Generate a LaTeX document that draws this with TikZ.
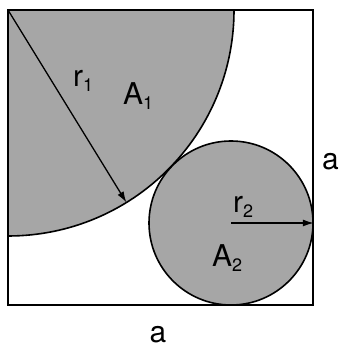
\documentclass[tikz,border=0pt]{standalone}
\usepackage{fontspec}
\setmainfont{TeX Gyre Heros}
\usetikzlibrary{arrows.meta,positioning,calc}
\newcommand{\lowidx}[1]{\raisebox{-5pt}{\fontsize{18}{18}\selectfont #1}}

\begin{document}
\begin{tikzpicture}[x=1pt, y=1pt, font=\fontsize{30}{36}\selectfont,
  frame/.style={draw=black, line width=1.6pt},
  grayfill/.style={fill=gray!70, draw=black, line width=1.6pt},
  arrow/.style={-{Latex[length=11pt, width=7pt]}, line width=1.3pt, draw=black},
  lbl/.style={inner sep=0pt, anchor=base west}]
  \useasboundingbox (0,0) rectangle (339,347);
  \coordinate (bl) at (8,42);
  \coordinate (tr) at (313,337);
  \coordinate (tl) at (8,337);
  % quarter circle in the corner
  \fill[gray!70] (tl) -- ++(226,0) arc (0:-90:226) -- cycle;
  \draw[line width=1.6pt] ([xshift=226pt]tl) arc (0:-90:226);
  % circle in the opposite corner
  \node[grayfill, circle, minimum size=164pt, inner sep=0pt] (small) at (231,124) {};
  \draw[frame] (bl) rectangle (tr);
  \coordinate (rim) at ([shift={(-58.4:226)}]tl);
  \draw[arrow] (tl) -- (rim);
  \draw[arrow] (small.center) -- (small.east);
  \node[lbl] (rone) at (73,260) {r\lowidx{1}};
  \node[lbl] (aone) at (123,242) {A\lowidx{1}};
  \node[lbl] (rtwo) at (233,134) {r\lowidx{2}};
  \node[lbl] (atwo) at (212,80) {A\lowidx{2}};
  \node[lbl] (side) at (322,177) {a};
  \node[lbl, anchor=base] (base) at (158,5) {a};
\end{tikzpicture}
\end{document}
